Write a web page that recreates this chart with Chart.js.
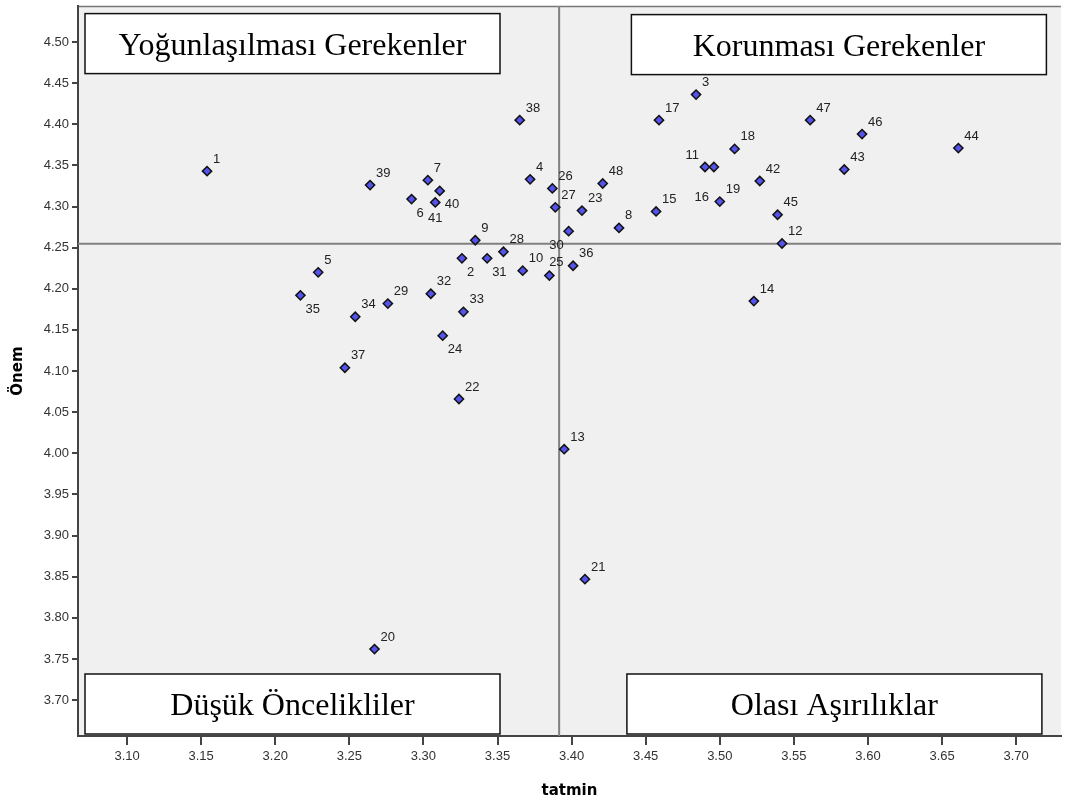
<!DOCTYPE html>
<html lang="tr">
<head>
<meta charset="utf-8">
<title>Önem - Tatmin</title>
<script src="https://cdn.jsdelivr.net/npm/chart.js@4.4.1/dist/chart.umd.min.js"></script>
<style>
  html, body { margin: 0; padding: 0; background: #fff; overflow: hidden; }
  #wrap { width: 1067px; height: 801px; }
  canvas { display: block; }
</style>
</head>
<body>
<div id="wrap"><canvas id="ipaChart" width="1067" height="801"></canvas></div>
<script>
// item numbers with their satisfaction (tatmin) and importance (önem) means
const items = [1, 2, 3, 4, 5, 6, 7, 8, 9, 10, 11, 12, 13, 14, 15, 16, 17, 18, 19, 20, 21, 22, 23, 24,
  25, 26, 27, 28, 29, 30, 31, 32, 33, 34, 35, 36, 37, 38, 39, 40, 41, 42, 43, 44, 45, 46, 47, 48];
const tatmin = [3.154, 3.326, 3.484, 3.372, 3.229, 3.292, 3.303, 3.432, 3.335, 3.367, 3.490, 3.542,
  3.395, 3.523, 3.457, 3.496, 3.459, 3.510, 3.500, 3.267, 3.409, 3.324, 3.407, 3.313,
  3.385, 3.387, 3.389, 3.354, 3.276, 3.398, 3.343, 3.305, 3.327, 3.254, 3.217, 3.401,
  3.247, 3.365, 3.264, 3.311, 3.308, 3.527, 3.584, 3.661, 3.539, 3.596, 3.561, 3.421];
const onem = [4.343, 4.237, 4.436, 4.333, 4.220, 4.309, 4.332, 4.274, 4.259, 4.222, 4.348, 4.255,
  4.005, 4.185, 4.294, 4.348, 4.405, 4.370, 4.306, 3.762, 3.847, 4.066, 4.295, 4.143,
  4.216, 4.322, 4.299, 4.245, 4.182, 4.270, 4.237, 4.194, 4.172, 4.166, 4.192, 4.228,
  4.104, 4.405, 4.326, 4.319, 4.305, 4.331, 4.345, 4.371, 4.290, 4.388, 4.405, 4.328];

// grand means -> quadrant split lines
const meanTatmin = 3.3916;
const meanOnem = 4.2546;

const xTicks = [3.10, 3.15, 3.20, 3.25, 3.30, 3.35, 3.40, 3.45, 3.50, 3.55, 3.60, 3.65, 3.70];
const yTicks = [3.70, 3.75, 3.80, 3.85, 3.90, 3.95, 4.00, 4.05, 4.10, 4.15, 4.20, 4.25, 4.30, 4.35, 4.40, 4.45, 4.50];

const quadrantTitles = ["Yoğunlaşılması Gerekenler", "Korunması Gerekenler", "Düşük Öncelikliler", "Olası Aşırılıklar"];

// where a point's number sits when the default (upper right) would overlap
const labelSpots = { 2: "se", 6: "se", 24: "se", 31: "se", 35: "se", 40: "se", 41: "s", 30: "sw", 11: "nw", 25: "n", 16: "low" };

const points = items.map((n, i) => ({ x: tatmin[i], y: onem[i], n: n }));

const plotBackground = {
  id: "plotBackground",
  beforeDraw(chart) {
    const { ctx, chartArea: a } = chart;
    ctx.save();
    ctx.fillStyle = "#f0f0f0";
    ctx.fillRect(a.left, a.top, a.right - a.left, a.bottom - a.top);
    ctx.strokeStyle = "#777";
    ctx.lineWidth = 1.5;
    ctx.beginPath();
    ctx.moveTo(a.left, a.top + 0.5);
    ctx.lineTo(a.right, a.top + 0.5);
    ctx.stroke();
    ctx.restore();
  }
};

const meanLines = {
  id: "meanLines",
  beforeDatasetsDraw(chart) {
    const { ctx, chartArea: a, scales } = chart;
    const x = scales.x.getPixelForValue(meanTatmin);
    const y = scales.y.getPixelForValue(meanOnem);
    ctx.save();
    ctx.strokeStyle = "#808080";
    ctx.lineWidth = 2;
    ctx.beginPath();
    ctx.moveTo(x, a.top);
    ctx.lineTo(x, a.bottom);
    ctx.moveTo(a.left, y);
    ctx.lineTo(a.right, y);
    ctx.stroke();
    ctx.restore();
  }
};

const pointNumbers = {
  id: "pointNumbers",
  afterDatasetsDraw(chart) {
    const { ctx } = chart;
    const meta = chart.getDatasetMeta(0);
    ctx.save();
    ctx.font = "13px 'Liberation Sans', Arial, sans-serif";
    ctx.fillStyle = "#222";
    ctx.textBaseline = "middle";
    meta.data.forEach((el, i) => {
      const n = items[i];
      const spot = labelSpots[n] || "ne";
      let x = el.x, y = el.y, align = "left";
      if (spot === "ne") { x += 6; y -= 12; }
      else if (spot === "se") { x += 5; y += 14; }
      else if (spot === "sw") { x -= 5; y += 14; align = "right"; }
      else if (spot === "nw") { x -= 6; y -= 12; align = "right"; }
      else if (spot === "s") { y += 16; align = "center"; }
      else if (spot === "n") { x += 7; y -= 13; align = "center"; }
      else if (spot === "low") { x -= 12; y += 30; align = "center"; }
      ctx.textAlign = align;
      ctx.fillText(String(n), x, y);
    });
    ctx.restore();
  }
};

const quadrantBoxes = {
  id: "quadrantBoxes",
  afterDatasetsDraw(chart) {
    const { ctx, chartArea: a } = chart;
    const w = 415, h = 60;
    const boxes = [
      [a.left + 7, a.top + 7.5],
      [a.right - 14.5 - w, a.top + 8.5],
      [a.left + 7, a.bottom - 2 - h],
      [a.right - 19 - w, a.bottom - 2 - h]
    ];
    ctx.save();
    ctx.font = "32px 'Liberation Serif', 'Times New Roman', serif";
    ctx.textAlign = "center";
    ctx.textBaseline = "alphabetic";
    boxes.forEach(([bx, by], i) => {
      ctx.fillStyle = "#fff";
      ctx.fillRect(bx, by, w, h);
      ctx.strokeStyle = "#111";
      ctx.lineWidth = 1.5;
      ctx.strokeRect(bx, by, w, h);
      ctx.fillStyle = "#000";
      ctx.fillText(quadrantTitles[i], bx + w / 2, by + 41);
    });
    ctx.restore();
  }
};

new Chart(document.getElementById("ipaChart"), {
  type: "scatter",
  data: {
    datasets: [{
      data: points,
      pointStyle: "rectRot",
      pointRadius: 4.6,
      pointBackgroundColor: "#5454ec",
      pointBorderColor: "#111",
      pointBorderWidth: 1.5
    }]
  },
  options: {
    responsive: false,
    animation: false,
    layout: { padding: { top: 3, right: 0, bottom: 0, left: 0 } },
    plugins: {
      legend: { display: false },
      tooltip: { enabled: false }
    },
    scales: {
      x: {
        type: "linear",
        min: 3.0669,
        max: 3.7302,
        afterFit: s => { s.height = 65; s.paddingLeft = 0; s.paddingRight = 0; },
        afterBuildTicks: s => { s.ticks = xTicks.map(v => ({ value: v })); },
        ticks: {
          color: "#333",
          padding: 4,
          font: { family: "'Liberation Sans', Arial, sans-serif", size: 13 },
          callback: v => v.toFixed(2)
        },
        grid: { drawOnChartArea: false, drawTicks: true, tickLength: 9, color: "#444", lineWidth: 2 },
        border: { color: "#444", width: 2 },
        title: {
          display: true,
          text: "tatmin",
          color: "#000",
          padding: { top: 0, bottom: 1 },
          font: { family: "'DejaVu Sans', Verdana, sans-serif", size: 15, weight: "bold" }
        }
      },
      y: {
        type: "linear",
        min: 3.6564,
        max: 4.5436,
        afterFit: s => { s.width = 78; s.paddingTop = 0; s.paddingBottom = 0; },
        afterBuildTicks: s => { s.ticks = yTicks.map(v => ({ value: v })); },
        ticks: {
          color: "#333",
          padding: 3,
          font: { family: "'Liberation Sans', Arial, sans-serif", size: 13 },
          callback: v => v.toFixed(2)
        },
        grid: { drawOnChartArea: false, drawTicks: true, tickLength: 6, color: "#444", lineWidth: 2 },
        border: { color: "#444", width: 2 },
        title: {
          display: true,
          text: "Önem",
          color: "#000",
          padding: { top: 9, bottom: 0 },
          font: { family: "'DejaVu Sans', Verdana, sans-serif", size: 15, weight: "bold" }
        }
      }
    }
  },
  plugins: [plotBackground, meanLines, quadrantBoxes, pointNumbers]
});
</script>
</body>
</html>
